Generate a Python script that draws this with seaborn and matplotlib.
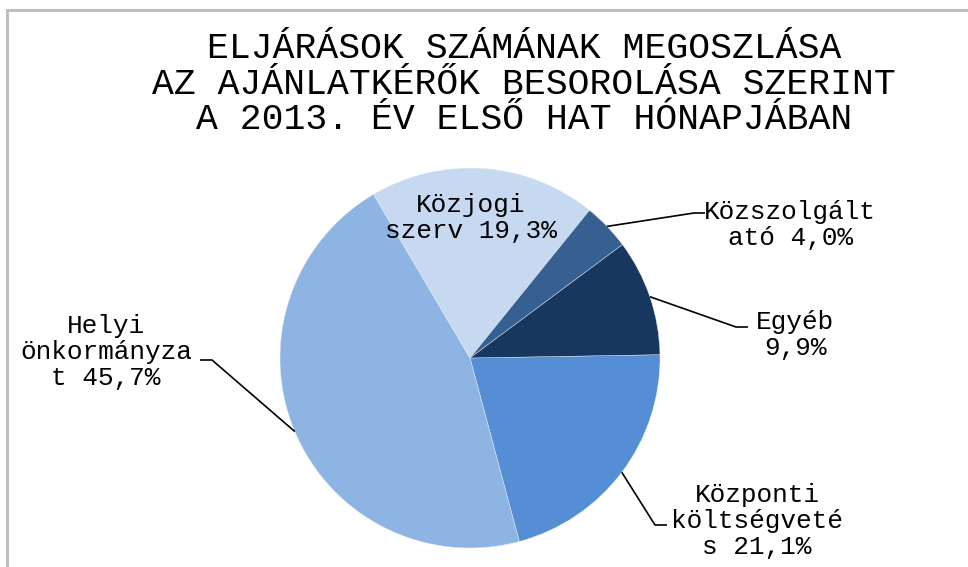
import numpy as np
import matplotlib
matplotlib.use("Agg")
import matplotlib.pyplot as plt
import seaborn as sns

# ---- data (clockwise from ~east) ----
categories = ["Központi\nköltségveté\ns", "Helyi\nönkormányza\nt", "Közjogi\nszerv",
              "Közszolgált\nató", "Egyéb\n"]
values = [21.1, 45.7, 19.3, 4.0, 9.9]
value_labels = ["21,1%", "45,7%", "19,3%", "4,0%", "9,9%"]
colors = ["#558ED5", "#8EB4E3", "#C6D9F1", "#376092", "#17375E"]

title_lines = ["ELJÁRÁSOK SZÁMÁNAK MEGOSZLÁSA",
               "AZ AJÁNLATKÉRŐK BESOROLÁSA SZERINT",
               "A 2013. ÉV ELSŐ HAT HÓNAPJÁBAN"]

sns.set_theme(style="white")
plt.rcParams['font.family'] = ['Liberation Mono', 'DejaVu Sans Mono']

W, H = 968, 567
fig = plt.figure(figsize=(W / 100, H / 100), dpi=100)
ax = fig.add_axes([0, 0, 1, 1])
ax.set_xlim(0, W)
ax.set_ylim(0, H)
ax.set_aspect('equal')
ax.axis('off')

cx, cy, R = 470, H - 358, 190
wedges, _ = ax.pie(values, colors=colors, startangle=1, counterclock=False,
                   center=(cx, cy), radius=R, frame=True,
                   wedgeprops=dict(linewidth=0.3, edgecolor='#E8EEF6'))
ax.set_xlim(0, W)
ax.set_ylim(0, H)
ax.axis('off')

# label text positions (pixel coords, y from top)
label_pos = {
    0: (757, 521),
    1: (106, 352),
    2: (471, 218),
    3: (790, 225),
    4: (795, 335),
}
fs = 18.8
for i, w in enumerate(wedges):
    mid = np.deg2rad((w.theta1 + w.theta2) / 2)
    lx, ly = label_pos[i]
    ly = H - ly
    parts = categories[i].split("\n")
    if i == 4:
        txt = parts[0] + "\n" + value_labels[i]
    else:
        txt = "\n".join(parts[:-1]) + "\n" + parts[-1] + " " + value_labels[i]
    ax.text(lx, ly, txt, ha='center', va='center', fontsize=fs,
            multialignment='center', linespacing=1.12, color='#000000')
    if i == 2:
        continue
    ex, ey = cx + R * np.cos(mid), cy + R * np.sin(mid)
    if i == 0:
        pts = [(ex, ey), (655, H - 525), (667, H - 525)]
    elif i == 1:
        pts = [(ex, ey), (212, H - 360), (200, H - 360)]
    elif i == 3:
        pts = [(ex, ey), (694, H - 213), (705, H - 213)]
    else:
        pts = [(ex, ey), (736, H - 327), (748, H - 327)]
    xs, ys = zip(*pts)
    ax.plot(xs, ys, color='black', lw=1.2, solid_capstyle='butt')

# title
fig.text(524 / W, 1 - 31 / H, "\n".join(title_lines), ha='center', va='top',
         fontsize=26.2, linespacing=1.02, color='#000000')

# chart border (partially visible)
ax.plot([7, 7, W + 5], [-5, H - 10, H - 10], color='#BFBFBF', lw=2.2,
        solid_joinstyle='miter', clip_on=False)

fig.savefig("out.png", dpi=100, facecolor='white')
